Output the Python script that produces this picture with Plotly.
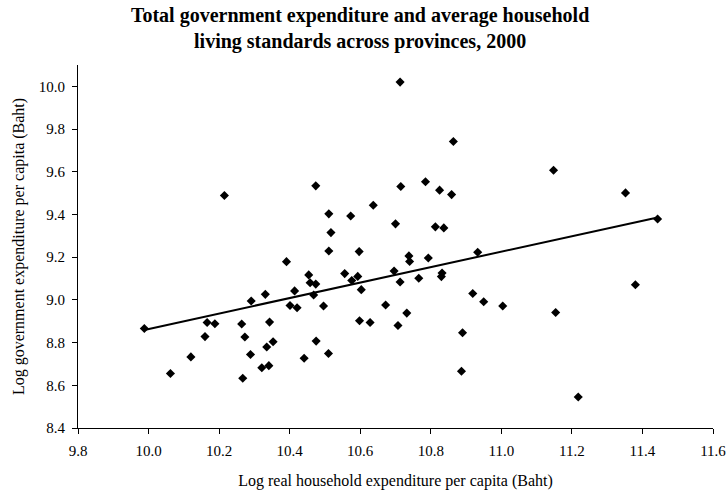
import numpy as np
import plotly.graph_objects as go

# Provincial observations, 2000
log_household_exp = [
    9.988, 10.062, 10.120, 10.160, 10.166, 10.188, 10.215, 10.264, 10.273, 10.289,
    10.267, 10.321, 10.341, 10.335, 10.353, 10.343, 10.291, 10.331, 10.391, 10.414,
    10.401, 10.421, 10.511, 10.597, 10.454, 10.458, 10.474, 10.468, 10.496, 10.556,
    10.576, 10.593, 10.603, 10.598, 10.628, 10.475, 10.441, 10.510, 10.672, 10.696,
    10.713, 10.707, 10.732, 10.738, 10.740, 10.766, 10.793, 10.832, 10.830, 10.933,
    10.919, 10.950, 10.890, 10.887, 11.004, 11.154, 11.380, 11.218, 11.443, 11.148,
    11.352, 10.713, 10.864, 10.474, 10.715, 10.785, 10.825, 10.859, 10.511, 10.573,
    10.637, 10.700, 10.517, 10.813, 10.837,
]
log_gov_exp = [
    8.866, 8.655, 8.733, 8.828, 8.894, 8.888, 9.489, 8.887, 8.826, 8.744,
    8.633, 8.682, 8.692, 8.779, 8.804, 8.896, 8.995, 9.026, 9.179, 9.042,
    8.974, 8.963, 9.229, 9.226, 9.117, 9.080, 9.074, 9.023, 8.971, 9.123,
    9.091, 9.110, 9.048, 8.902, 8.894, 8.807, 8.727, 8.749, 8.976, 9.135,
    9.084, 8.880, 8.938, 9.206, 9.180, 9.101, 9.196, 9.126, 9.109, 9.223,
    9.030, 8.991, 8.846, 8.666, 8.971, 8.941, 9.071, 8.545, 9.379, 9.607,
    9.501, 10.020, 9.742, 9.534, 9.531, 9.553, 9.514, 9.493, 9.403, 9.393,
    9.443, 9.356, 9.315, 9.342, 9.337,
]

x_ticks = [9.8, 10.0, 10.2, 10.4, 10.6, 10.8, 11.0, 11.2, 11.4, 11.6]
y_ticks = [8.4, 8.6, 8.8, 9.0, 9.2, 9.4, 9.6, 9.8, 10.0]

# Linear (OLS) trend across the provinces
x_arr = np.array(log_household_exp)
y_arr = np.array(log_gov_exp)
slope, intercept = np.polyfit(x_arr, y_arr, 1)
fit_x = np.array([x_arr.min(), x_arr.max()])
fit_y = intercept + slope * fit_x

SERIF = "Liberation Serif, Times New Roman, serif"

fig = go.Figure()
fig.add_trace(go.Scatter(
    x=log_household_exp, y=log_gov_exp, mode="markers",
    marker=dict(symbol="diamond", size=7, color="black"),
    showlegend=False, hoverinfo="x+y",
))
fig.add_trace(go.Scatter(
    x=fit_x, y=fit_y, mode="lines",
    line=dict(color="black", width=2),
    showlegend=False, hoverinfo="skip",
))

fig.update_layout(
    width=726, height=490,
    margin=dict(l=78, r=13, t=65, b=62, autoexpand=False),
    paper_bgcolor="white", plot_bgcolor="white",
    font=dict(family=SERIF, size=15, color="black"),
    title=dict(
        text="<b>Total government expenditure and average household<br>living standards across provinces, 2000</b>",
        x=0.496, xref="container", xanchor="center",
        y=0.956, yref="container", yanchor="top",
        font=dict(family=SERIF, size=20, color="black"),
    ),
)
fig.update_xaxes(
    range=[9.8, 11.6], tickvals=x_ticks, ticktext=[f"{v:.1f}" for v in x_ticks],
    showline=True, linecolor="black", linewidth=1,
    ticks="outside", ticklen=5, tickcolor="black", tickwidth=1,
    showgrid=False, zeroline=False, automargin=False,
    ticklabelstandoff=4, ticklabeloverflow="allow",
    title=dict(text="Log real household expenditure per capita (Baht)", standoff=22,
               font=dict(family=SERIF, size=16)),
)
fig.update_yaxes(
    range=[8.4, 10.1], tickvals=y_ticks, ticktext=[f"{v:.1f}" for v in y_ticks],
    showline=True, linecolor="black", linewidth=1,
    ticks="outside", ticklen=5, tickcolor="black", tickwidth=1,
    showgrid=False, zeroline=False, automargin=False,
    ticklabelstandoff=4,
    title=dict(text="Log government expenditure per capita (Baht)", standoff=10,
               font=dict(family=SERIF, size=16)),
)

fig.write_html("out.html")
